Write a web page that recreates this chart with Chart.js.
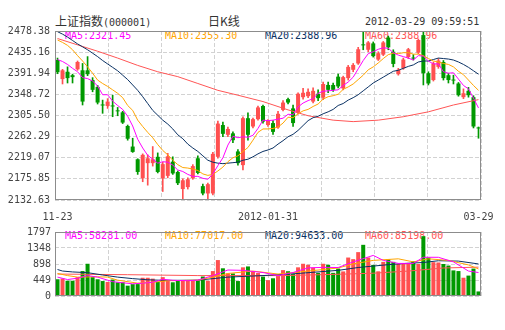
<!DOCTYPE html>
<html>
<head>
<meta charset="utf-8">
<script src="https://cdn.jsdelivr.net/npm/chart.js@4.4.1/dist/chart.umd.min.js"></script>
<style>
html,body{margin:0;padding:0;background:#fff;}
#wrap{position:relative;width:505px;height:330px;overflow:hidden;background:#fff;}
.t{position:absolute;white-space:pre;font-family:'DejaVu Sans Mono',monospace;font-size:10px;line-height:12px;z-index:1;}
.c{font-family:'Noto Sans CJK SC',sans-serif;font-size:12px;}
canvas{position:absolute;left:0;z-index:2;}
</style>
</head>
<body>
<div id="wrap">
  <div class="t" style="left:55px;top:15px;color:#333;"><span class="c">上证指数</span>(000001)</div>
  <div class="t c" style="left:208px;top:14px;color:#333;line-height:14px;">日K线</div>
  <div class="t" style="left:365px;top:16px;color:#333;">2012-03-29 09:59:51</div>
  <div class="t" style="left:65px;top:30px;color:#ff00ff;">MA5:2321.45</div>
  <div class="t" style="left:165px;top:30px;color:#ffa500;">MA10:2355.30</div>
  <div class="t" style="left:265px;top:30px;color:#0a3163;">MA20:2388.96</div>
  <div class="t" style="left:365px;top:30px;color:#ff5555;">MA60:2388.96</div>
  <div class="t" style="left:65px;top:230px;color:#ff00ff;">MA5:58281.00</div>
  <div class="t" style="left:165px;top:230px;color:#ffa500;">MA10:77017.00</div>
  <div class="t" style="left:265px;top:230px;color:#0a3163;">MA20:94633.00</div>
  <div class="t" style="left:365px;top:230px;color:#ff5555;">MA60:85198.00</div>
  <canvas id="k" width="505" height="226" style="top:0"></canvas>
  <canvas id="v" width="505" height="84" style="top:222px"></canvas>
</div>
<script>
const categories = ['11-23','11-24','11-25','11-28','11-29','11-30',
'12-01','12-02','12-05','12-06','12-07','12-08','12-09','12-12','12-13','12-14','12-15','12-16','12-19','12-20','12-21','12-22','12-23','12-26','12-27','12-28','12-29','12-30',
'01-04','01-05','01-06','01-09','01-10','01-11','01-12','01-13','01-16','01-17','01-18','01-19','01-20','01-30','01-31',
'02-01','02-02','02-03','02-06','02-07','02-08','02-09','02-10','02-13','02-14','02-15','02-16','02-17','02-20','02-21','02-22','02-23','02-24','02-27','02-28','02-29',
'03-01','03-02','03-05','03-06','03-07','03-08','03-09','03-12','03-13','03-14','03-15','03-16','03-19','03-20','03-21','03-22','03-23','03-26','03-27','03-28','03-29'];

const opens = [2419,2380,2395,2388,2400,2398,2398,2378,2364,2328, 2325,2326,2316,2312,2284,2242,2216,2177,2208,2208,
 2221,2177,2182,2211,2190,2155,2159,2177,2218,2161, 2146,2146,2221,2286,2266,2269,2232,2204,2300,2283,
 2298,2325,2286,2290,2281,2317,2339,2320,2311,2343, 2345,2334,2350,2342,2368,2368,2385,2361,2382,2399,
 2412,2450.5,2440,2453,2420,2430,2465,2436,2390,2402, 2425,2424,2434,2470,2392,2378,2405,2415,2388,2379,
 2371,2343,2356,2343,2281];
const highs = [2423,2400,2405,2390,2417,2412,2426,2383,2367,2337, 2340,2347,2322,2314,2286,2259,2217,2227,2225,2242,
 2229,2210,2228,2221,2192,2176,2178,2205,2223,2165, 2167,2230,2294,2292,2282,2272,2236,2303,2311,2300,
 2325,2327,2297,2295,2314,2336,2341,2327,2352,2361, 2360,2362,2358,2374,2374,2372,2390,2386,2408,2412,
 2445,2476,2457,2456,2436,2457,2468,2440,2402,2423, 2443,2430,2462,2478.38,2395,2415,2422,2418,2392,2388,
 2373,2360,2363,2346,2282];
const lows = [2391,2370,2372,2372,2398,2327,2387,2354,2329,2310, 2320,2303,2305,2289,2255,2230,2185,2170,2163,2202,
 2188,2150,2178,2185,2164,2135,2155,2175,2186,2143, 2132.63,2143,2218,2262,2262,2250,2204,2194,2255,2280,
 2296,2290,2283,2267,2279,2315,2329,2283,2308,2339, 2342,2331,2336,2338,2352,2355,2362,2358,2378,2395,
 2410,2440,2436,2425,2418,2428,2440,2405,2388,2400, 2422,2419,2432,2368,2368,2376,2402,2378,2372,2370,
 2345,2340,2343,2280,2259];
const closes = [2394,2398,2382,2384,2415,2334,2390,2358,2332,2326, 2334,2324,2314,2291,2258,2231,2190,2225,2218,2216,
 2190,2206,2222,2187,2167,2173,2175,2202,2188,2146, 2165,2227,2289,2268,2278,2255,2208,2300,2266,2298,
 2322,2293,2295,2272,2309,2332,2332,2290,2350,2352, 2354,2356,2341,2370,2358,2358,2365,2384,2405,2409,
 2441,2449,2455,2427,2433,2455,2445,2411,2399,2420, 2441,2422,2460,2392,2371,2412,2418,2382,2378,2377,
 2347,2351,2347,2283,2279];
const volumes = [470,490,428,428,530,700,905,530,470,420, 395,462,385,385,290,334,334,513,513,488,
 400,530,428,385,428,445,428,428,428,547, 428,700,1009,778,633,633,420,805,830,700,
 645,545,445,497,560,727,695,616,805,905, 877,795,650,905,877,650,770,690,1080,1035,
 1232,1437,1080,873,693,958,1027,958,898,898, 915,975,898,1680,1080,950,941,898,855,719,
 700,513,573,770,128];

const ma5 = [2420,2416,2410,2402,2395,2383,2381,2376,2366,2348, 2348,2335,2326,2318,2304,2284,2257,2239,2224,2216,
 2208,2211,2210,2204,2194,2191,2185,2181,2181,2177, 2175,2186,2203,2219,2245,2263,2260,2262,2261,2265,
 2279,2296,2295,2296,2298,2300,2308,2307,2323,2331, 2336,2340,2351,2355,2356,2357,2358,2367,2374,2384,
 2401,2418,2432,2436,2441,2444,2443,2434,2429,2426, 2423,2419,2428,2427,2417,2411,2411,2395,2392,2393,
 2380,2367,2360,2341,2321];
const ma10 = [2460,2455,2449,2440,2428,2417,2405,2392,2378,2371, 2365,2358,2351,2342,2326,2316,2296,2283,2271,2260,
 2246,2234,2225,2214,2205,2199,2198,2196,2193,2186, 2183,2185,2192,2200,2211,2219,2223,2232,2240,2255,
 2271,2278,2278,2279,2282,2290,2302,2301,2309,2315, 2318,2324,2329,2339,2344,2346,2349,2359,2364,2370,
 2379,2388,2399,2405,2413,2422,2430,2433,2432,2434, 2434,2431,2431,2428,2422,2417,2415,2412,2410,2405,
 2396,2389,2378,2367,2357];
const ma20 = [2477,2472,2466,2459,2452,2446,2440,2433,2426,2418, 2411,2404,2397,2388,2379,2368,2357,2344,2330,2316,
 2306,2296,2288,2278,2266,2258,2247,2239,2232,2223, 2214,2210,2208,2207,2208,2209,2210,2214,2216,2221,
 2227,2232,2235,2239,2247,2254,2262,2267,2275,2285, 2295,2301,2304,2309,2313,2318,2326,2330,2337,2342,
 2348,2356,2364,2372,2378,2384,2390,2396,2398,2402, 2406,2409,2415,2417,2417,2420,2423,2422,2421,2419,
 2415,2410,2404,2397,2390];
const ma60Pts = [[0,2463],[4,2450],[8,2437],[12,2423],[16,2408],[20,2395],[24,2385],[28,2371],[32,2357],[36,2347],
 [41,2334],[46,2317],[50,2305],[55,2296],[59,2293],[64,2296],[69,2303],[74,2313],[79,2327],[84,2338]];

const volMa5Pts = [[0,530],[2,462],[4,500],[6,573],[8,530],[11,402],[15,342],[17,360],[19,385],[21,470],[23,440],[26,430],[28,445],
 [31,573],[34,730],[37,720],[41,659],[44,573],[47,659],[50,790],[53,804],[56,800],[59,958],[63,1140],[65,1001],[68,915],
 [71,915],[73,1087],[76,1087],[79,958],[82,700],[84,659]];
const volMa10Pts = [[0,633],[2,573],[4,530],[8,540],[10,530],[12,445],[16,360],[19,385],[22,428],[28,445],[31,530],[34,633],
 [39,700],[44,616],[50,700],[56,787],[59,900],[63,1000],[68,1044],[71,958],[74,1044],[78,1000],[82,873],[84,760]];
const volMa20Pts = [[0,744],[1,701],[3,676],[6,655],[9,590],[12,530],[15,488],[18,455],[21,440],[24,440],[28,445],[34,530],
 [41,573],[48,633],[56,720],[60,800],[63,840],[66,880],[70,920],[73,940],[76,990],[80,980],[84,900]];
const volMa60Pts = [[0,616],[14,598],[28,573],[45,573],[56,610],[63,640],[70,700],[77,787],[84,810]];

const yTickVals = [2132.63,2175.85,2219.07,2262.29,2305.50,2348.72,2391.94,2435.16,2478.38];
const yTickLabels = ['2132.63','2175.85','2219.07','2262.29','2305.50','2348.72','2391.94','2435.16','2478.38'];
const volTickVals = [0,449,898,1348,1797];
const volTickLabels = ['0','449','898','1348','1797'];
const xTickIdx = [0,42,84];
const xTickText = ['11-23','2012-01-31','03-29'];

const UP = '#ff5050', DOWN = '#009900';
const C5 = '#ff00ff', C10 = '#ffa500', C20 = '#0a3163', C60 = '#ff5555';
const GRID = '#d2d2d2';

Chart.defaults.font.family = "'DejaVu Sans Mono', monospace";
Chart.defaults.font.size = 10;
Chart.defaults.color = '#444';

const candleColors = opens.map((o, i) => closes[i] > o ? UP : DOWN);
const toPts = arr => arr.map(([i, v]) => ({x: categories[i], y: v}));

const framePlugin = {
  id: 'frame',
  afterDatasetsDraw(chart) {
    const {ctx, chartArea: a} = chart;
    ctx.save();
    ctx.strokeStyle = '#8c8c8c';
    ctx.lineWidth = 1;
    ctx.setLineDash([]);
    ctx.strokeRect(Math.round(a.left) + 0.5, Math.round(a.top) + 0.5, Math.round(a.right - a.left) - 1, Math.round(a.bottom - a.top) - 1);
    ctx.restore();
  }
};

function lineDs(label, data, color) {
  return {type: 'line', label, data, borderColor: color, borderWidth: 1, pointRadius: 0, tension: 0, fill: false, spanGaps: true, order: 0};
}

function gridAxis() {
  return {
    type: 'linear', position: 'top', min: 0, max: 8,
    afterBuildTicks: s => { s.ticks = [0,1,2,3,4,5,6,7,8].map(v => ({value: v})); },
    ticks: {display: false},
    grid: {color: GRID, drawTicks: false, lineWidth: 1},
    border: {display: false, dash: [4, 2]},
    afterFit: s => { s.height = 0; }
  };
}

new Chart(document.getElementById('k'), {
  data: {
    labels: categories,
    datasets: [
      lineDs('MA5', ma5, C5),
      lineDs('MA10', ma10, C10),
      lineDs('MA20', ma20, C20),
      lineDs('MA60', toPts(ma60Pts), C60),
      {type: 'bar', label: 'body', data: opens.map((o, i) => [o, closes[i]]), backgroundColor: candleColors,
       barPercentage: 0.8, categoryPercentage: 1, grouped: false, minBarLength: 1, order: 1},
      {type: 'bar', label: 'wick', data: lows.map((l, i) => [l, highs[i]]), backgroundColor: candleColors,
       barThickness: 1, grouped: false, order: 2}
    ]
  },
  options: {
    responsive: false, animation: false, devicePixelRatio: 1, events: [],
    layout: {padding: {top: 31, right: 24, left: 0, bottom: 0}},
    plugins: {legend: {display: false}, tooltip: {enabled: false}},
    scales: {
      x: {
        type: 'category', offset: true,
        grid: {display: false, drawTicks: false}, border: {display: false},
        afterBuildTicks: s => { s.ticks = xTickIdx.map(v => ({value: v})); },
        ticks: {autoSkip: false, maxRotation: 0, padding: 11, color: '#444', callback: (v, i) => xTickText[i]},
        afterFit: s => { s.height = 26; }
      },
      xg: gridAxis(),
      y: {
        min: 2132.63, max: 2478.38,
        afterBuildTicks: s => { s.ticks = yTickVals.map(v => ({value: v})); },
        ticks: {padding: 5, color: '#444', callback: (v, i) => yTickLabels[i]},
        grid: {color: GRID, drawTicks: false},
        border: {display: false, dash: [4, 2]},
        afterFit: s => { s.width = 55; }
      }
    }
  },
  plugins: [framePlugin]
});

new Chart(document.getElementById('v'), {
  data: {
    labels: categories,
    datasets: [
      lineDs('VMA5', toPts(volMa5Pts), C5),
      lineDs('VMA10', toPts(volMa10Pts), C10),
      lineDs('VMA20', toPts(volMa20Pts), C20),
      lineDs('VMA60', toPts(volMa60Pts), C60),
      {type: 'bar', label: 'vol', data: volumes, backgroundColor: candleColors,
       barPercentage: 0.8, categoryPercentage: 1, order: 1}
    ]
  },
  options: {
    responsive: false, animation: false, devicePixelRatio: 1, events: [],
    layout: {padding: {top: 8, right: 24, left: 0, bottom: 0}},
    plugins: {legend: {display: false}, tooltip: {enabled: false}},
    scales: {
      x: {
        type: 'category', offset: true,
        grid: {display: false, drawTicks: false}, border: {display: false},
        ticks: {display: false},
        afterFit: s => { s.height = 6; }
      },
      xg: gridAxis(),
      y: {
        min: 0, max: 1797,
        afterBuildTicks: s => { s.ticks = volTickVals.map(v => ({value: v})); },
        ticks: {padding: 4, color: '#444', callback: (v, i) => volTickLabels[i]},
        grid: {color: GRID, drawTicks: false},
        border: {display: false, dash: [4, 2]},
        afterFit: s => { s.width = 55; }
      }
    }
  },
  plugins: [framePlugin]
});
</script>
</body>
</html>
